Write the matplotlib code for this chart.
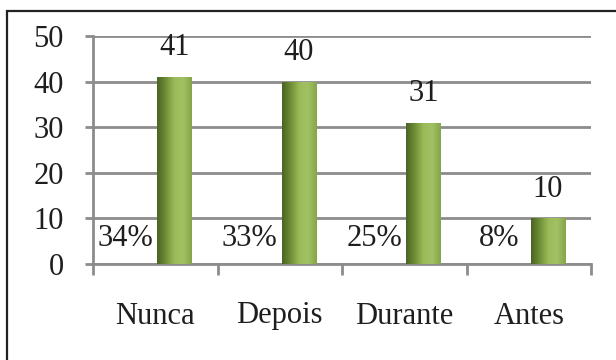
import numpy as np
import matplotlib.pyplot as plt
from matplotlib.patches import Rectangle
from matplotlib.colors import LinearSegmentedColormap

# Quando - contagem e percentagem por categoria
categorias = ["Nunca", "Depois", "Durante", "Antes"]
contagens = [41, 40, 31, 10]
percentagens = ["34%", "33%", "25%", "8%"]

plt.rcParams['font.family'] = ['Liberation Serif', 'DejaVu Serif']
cor_texto = "#1e1e1e"
cor_grelha = "#8c8c8c"

fig = plt.figure(figsize=(6.16, 3.6), dpi=100)
fig.patch.set_facecolor("white")

# moldura da caixa do grafico
fig.patches.append(Rectangle((7 / 616, -0.1), 1.2, 1 - 11 / 360 + 0.1,
                             transform=fig.transFigure, fill=False,
                             edgecolor="#222222", linewidth=1.6))

ax = fig.add_axes([93 / 616, 1 - 264 / 360, 498 / 616, 228 / 360])
x = np.arange(len(categorias))

barras = ax.bar(x + 0.155, contagens, width=0.28, color="#8aab4e", zorder=3)

# sombreado cilindrico das barras
verde = LinearSegmentedColormap.from_list(
    "verde", ["#4b6424", "#6f8f37", "#9bbb59", "#a3c164", "#86a64a"])
grad = np.linspace(0, 1, 64).reshape(1, -1)
for b in barras:
    im = ax.imshow(grad, cmap=verde, aspect="auto", zorder=4,
                   extent=(b.get_x(), b.get_x() + b.get_width(), 0, b.get_height()))
    im.set_clip_path(b)

fs = 22
for xi, v in zip(x, contagens):
    ax.annotate(str(v), (xi + 0.155, v), xytext=(0, 21), textcoords="offset points",
                ha="center", va="center", fontsize=fs, color=cor_texto)
for xi, p in zip(x, percentagens):
    ax.text(xi - 0.24, 5.5, p, ha="center", va="center", fontsize=fs,
            color=cor_texto, zorder=5)

ax.set_xlim(-0.5, 3.5)
ax.set_ylim(0, 50)
ax.set_yticks(range(0, 51, 10))
ax.set_xticks(x)
ax.set_xticklabels(categorias)
ax.set_xticks(np.arange(-0.5, 4, 1), minor=True)

ax.yaxis.grid(True, color=cor_grelha, linewidth=2, zorder=0)
for lado in ["top", "right"]:
    ax.spines[lado].set_visible(False)
for lado in ["left", "bottom"]:
    ax.spines[lado].set_color(cor_grelha)
    ax.spines[lado].set_linewidth(2)

ax.tick_params(axis="y", length=6, width=2, color=cor_grelha, pad=15,
               labelsize=fs, labelcolor=cor_texto)
ax.tick_params(axis="x", which="major", length=0, pad=27,
               labelsize=fs, labelcolor=cor_texto)
ax.tick_params(axis="x", which="minor", length=8, width=2, color=cor_grelha)

fig.savefig("out.png", dpi=100)
